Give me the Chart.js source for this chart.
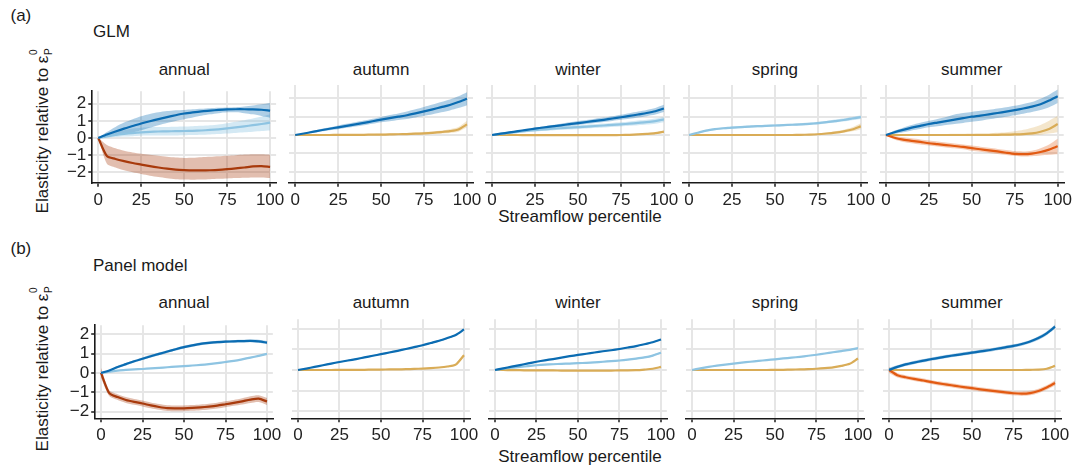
<!DOCTYPE html>
<html><head><meta charset="utf-8">
<script src="https://cdn.jsdelivr.net/npm/chart.js@4.4.1/dist/chart.umd.min.js"></script>
<style>
html,body{margin:0;padding:0;background:#fff;}
body{width:1075px;height:466px;position:relative;overflow:hidden;font-family:'Liberation Sans',Arial,sans-serif;color:#1a1a1a;}
.t{position:absolute;font-size:17px;line-height:17px;white-space:nowrap;}
.c{text-align:center;width:240px;}
canvas{position:absolute;}
.yl{position:absolute;width:220px;height:20px;line-height:20px;text-align:center;font-size:17px;transform:rotate(-90deg);white-space:nowrap;}
.ss{display:inline-block;position:relative;width:7px;height:0;}
.ss span{position:absolute;left:0.5px;font-size:10px;line-height:10px;}
</style></head>
<body>
<div class="t" style="left:10.5px;top:7px">(a)</div>
<div class="t" style="left:93px;top:22.5px">GLM</div>
<div class="t" style="left:10.5px;top:240px">(b)</div>
<div class="t" style="left:93px;top:257px">Panel model</div>
<div class="yl" style="left:-67px;top:120.5px">Elasticity relative to ε<span class="ss"><span style="top:-19.5px">0</span><span style="top:-4.5px">P</span></span></div>
<div class="yl" style="left:-67px;top:359px">Elasticity relative to ε<span class="ss"><span style="top:-19.5px">0</span><span style="top:-4.5px">P</span></span></div>
<div class="t c" style="left:460px;top:208px">Streamflow percentile</div>
<div class="t c" style="left:460px;top:448px">Streamflow percentile</div>
<div id="titles"></div>
<script>
// ---- axes / categories ----
const pct = [0,5,10,15,20,25,30,35,40,45,50,55,60,65,70,75,80,85,90,95,100];
const xTicks = [0,25,50,75,100];
const yTicks = [-2,-1,0,1,2];
const facetNames = ['annual','autumn','winter','spring','summer'];

// ---- GLM (a) ----
const gAnnDark   = [0,0.2,0.38,0.55,0.7,0.85,0.98,1.1,1.22,1.33,1.43,1.5,1.56,1.6,1.64,1.67,1.68,1.68,1.67,1.65,1.6];
const gAnnDarkLo = [0,0.08,0.15,0.22,0.32,0.45,0.6,0.75,0.88,1.0,1.1,1.2,1.3,1.38,1.45,1.5,1.5,1.45,1.38,1.28,1.18];
const gAnnDarkHi = [0,0.35,0.65,0.9,1.1,1.27,1.4,1.5,1.57,1.62,1.64,1.68,1.71,1.74,1.76,1.78,1.8,1.84,1.9,1.97,2.05];
const gAnnLight   = [0,0.1,0.18,0.24,0.29,0.33,0.36,0.38,0.39,0.4,0.41,0.42,0.44,0.47,0.51,0.56,0.62,0.68,0.75,0.82,0.9];
const gAnnLightLo = [0,0.03,0.06,0.09,0.11,0.13,0.14,0.15,0.15,0.15,0.16,0.17,0.19,0.21,0.23,0.26,0.29,0.33,0.37,0.41,0.44];
const gAnnLightHi = [0,0.2,0.34,0.46,0.55,0.6,0.63,0.64,0.65,0.66,0.67,0.69,0.71,0.74,0.79,0.86,0.95,1.04,1.14,1.25,1.38];
const gAnnRed   = [0,-1.05,-1.22,-1.35,-1.46,-1.55,-1.64,-1.72,-1.79,-1.84,-1.87,-1.89,-1.89,-1.88,-1.86,-1.82,-1.77,-1.72,-1.66,-1.64,-1.68];
const gAnnRedLo = [0,-1.5,-1.72,-1.88,-2.0,-2.1,-2.2,-2.28,-2.35,-2.4,-2.42,-2.43,-2.42,-2.4,-2.38,-2.36,-2.34,-2.32,-2.3,-2.3,-2.33];
const gAnnRedHi = [0,-0.4,-0.6,-0.75,-0.85,-0.92,-0.98,-1.04,-1.1,-1.14,-1.16,-1.15,-1.12,-1.1,-1.07,-1.04,-1.0,-0.96,-0.94,-0.95,-0.97];

const gAutDark   = [0,0.08,0.17,0.26,0.34,0.42,0.5,0.58,0.66,0.75,0.84,0.92,1.0,1.08,1.18,1.29,1.4,1.52,1.64,1.8,1.98];
const gAutDarkLo = [0,0.05,0.12,0.19,0.26,0.32,0.39,0.46,0.53,0.61,0.69,0.75,0.82,0.88,0.96,1.05,1.14,1.24,1.34,1.47,1.62];
const gAutDarkHi = [0,0.11,0.22,0.33,0.42,0.52,0.61,0.7,0.79,0.89,0.99,1.09,1.18,1.28,1.4,1.53,1.66,1.8,1.94,2.12,2.34];
const gAutGold   = [0,0,0,0,0,0.01,0.01,0.01,0.01,0.02,0.02,0.03,0.04,0.05,0.07,0.09,0.12,0.16,0.21,0.3,0.58];
const gAutGoldLo = [0,-0.02,-0.02,-0.03,-0.03,-0.02,-0.02,-0.02,-0.02,-0.02,-0.02,-0.01,0,0.01,0.02,0.03,0.05,0.08,0.11,0.18,0.42];
const gAutGoldHi = [0,0.02,0.02,0.03,0.03,0.04,0.04,0.04,0.05,0.06,0.07,0.08,0.09,0.11,0.13,0.16,0.2,0.25,0.32,0.44,0.78];

const gWinDark   = [0,0.07,0.14,0.21,0.28,0.35,0.41,0.47,0.53,0.59,0.65,0.71,0.77,0.83,0.9,0.97,1.04,1.12,1.2,1.3,1.45];
const gWinDarkLo = [0,0.05,0.11,0.17,0.23,0.29,0.34,0.39,0.44,0.49,0.54,0.6,0.65,0.71,0.77,0.83,0.89,0.96,1.03,1.12,1.25];
const gWinDarkHi = [0,0.09,0.17,0.25,0.33,0.41,0.48,0.55,0.62,0.69,0.76,0.82,0.89,0.95,1.03,1.11,1.19,1.28,1.37,1.48,1.65];
const gWinLight   = [0,0.06,0.12,0.17,0.22,0.27,0.31,0.34,0.37,0.4,0.43,0.46,0.49,0.52,0.55,0.58,0.62,0.66,0.7,0.76,0.85];
const gWinLightLo = [0,0.03,0.07,0.11,0.15,0.19,0.22,0.25,0.28,0.3,0.33,0.36,0.38,0.41,0.44,0.46,0.5,0.53,0.57,0.62,0.7];
const gWinLightHi = [0,0.09,0.17,0.23,0.29,0.35,0.4,0.43,0.46,0.5,0.53,0.56,0.6,0.63,0.66,0.7,0.74,0.79,0.83,0.9,1.0];
const gWinGold   = [0,0,0,0,-0.01,-0.01,-0.01,-0.01,-0.01,-0.01,-0.01,-0.01,-0.01,-0.01,-0.01,0,0.01,0.03,0.06,0.1,0.18];
const gWinGoldLo = [0,-0.02,-0.03,-0.03,-0.04,-0.04,-0.04,-0.04,-0.04,-0.04,-0.04,-0.04,-0.04,-0.04,-0.04,-0.03,-0.02,0,0.02,0.05,0.12];
const gWinGoldHi = [0,0.02,0.03,0.03,0.03,0.03,0.03,0.03,0.03,0.03,0.03,0.03,0.03,0.03,0.03,0.04,0.05,0.07,0.1,0.15,0.25];

const gSprLight   = [0,0.12,0.24,0.32,0.37,0.4,0.43,0.46,0.48,0.5,0.52,0.54,0.56,0.58,0.61,0.65,0.7,0.76,0.82,0.9,0.98];
const gSprLightLo = [0,0.09,0.19,0.26,0.31,0.34,0.37,0.4,0.42,0.44,0.46,0.48,0.5,0.52,0.55,0.58,0.63,0.68,0.74,0.81,0.88];
const gSprLightHi = [0,0.15,0.28,0.37,0.42,0.46,0.49,0.52,0.54,0.56,0.58,0.6,0.62,0.65,0.68,0.72,0.77,0.84,0.91,0.99,1.08];
const gSprGold   = [0,0,0,0,0,0,0,0,0,0,0,0,0,0.01,0.02,0.04,0.08,0.13,0.2,0.3,0.47];
const gSprGoldLo = [0,-0.02,-0.02,-0.02,-0.02,-0.02,-0.02,-0.02,-0.02,-0.02,-0.02,-0.02,-0.02,-0.02,-0.01,0,0.03,0.07,0.12,0.2,0.32];
const gSprGoldHi = [0,0.02,0.02,0.02,0.02,0.02,0.02,0.02,0.02,0.02,0.02,0.02,0.03,0.04,0.06,0.09,0.13,0.2,0.29,0.42,0.64];

const gSumDark   = [0,0.15,0.28,0.4,0.5,0.6,0.68,0.76,0.84,0.92,1.0,1.06,1.13,1.2,1.28,1.36,1.45,1.55,1.68,1.88,2.12];
const gSumDarkLo = [0,0.06,0.15,0.25,0.33,0.42,0.48,0.55,0.6,0.66,0.72,0.78,0.86,0.93,1.0,1.08,1.16,1.25,1.36,1.52,1.75];
const gSumDarkHi = [0,0.24,0.4,0.55,0.67,0.78,0.88,0.98,1.12,1.2,1.26,1.32,1.38,1.45,1.52,1.6,1.7,1.8,1.98,2.2,2.48];
const gSumGold   = [0,0,0,0,0,0,0,0,0,0,0,0,0,0.01,0.02,0.03,0.05,0.09,0.18,0.33,0.6];
const gSumGoldLo = [0,-0.02,-0.03,-0.04,-0.04,-0.04,-0.04,-0.04,-0.04,-0.04,-0.04,-0.04,-0.04,-0.04,-0.04,-0.03,-0.02,-0.01,0.02,0.08,0.15];
const gSumGoldHi = [0,0.03,0.04,0.05,0.05,0.06,0.06,0.06,0.07,0.07,0.08,0.09,0.1,0.12,0.15,0.2,0.28,0.4,0.55,0.78,1.05];
const gSumOrange   = [0,-0.15,-0.25,-0.32,-0.38,-0.45,-0.5,-0.55,-0.6,-0.65,-0.72,-0.78,-0.84,-0.9,-0.97,-1.03,-1.05,-1.02,-0.93,-0.8,-0.62];
const gSumOrangeLo = [0,-0.25,-0.38,-0.45,-0.52,-0.58,-0.63,-0.68,-0.73,-0.78,-0.86,-0.92,-0.98,-1.04,-1.1,-1.15,-1.18,-1.16,-1.12,-1.08,-1.05];
const gSumOrangeHi = [0,-0.05,-0.12,-0.18,-0.24,-0.3,-0.36,-0.41,-0.46,-0.52,-0.58,-0.64,-0.7,-0.76,-0.82,-0.88,-0.9,-0.86,-0.72,-0.52,-0.2];

// ---- Panel model (b) ----
const pAnnDark   = [0,0.12,0.3,0.45,0.6,0.73,0.86,0.98,1.1,1.22,1.33,1.42,1.5,1.55,1.59,1.61,1.63,1.64,1.65,1.63,1.56];
const pAnnDarkLo = [0,0.08,0.24,0.38,0.53,0.66,0.79,0.91,1.03,1.15,1.26,1.35,1.43,1.48,1.52,1.54,1.56,1.57,1.58,1.55,1.48];
const pAnnDarkHi = [0,0.16,0.36,0.52,0.67,0.8,0.93,1.05,1.17,1.29,1.4,1.49,1.57,1.62,1.66,1.68,1.7,1.71,1.72,1.71,1.64];
const pAnnLight   = [0,0.06,0.12,0.15,0.18,0.2,0.23,0.26,0.29,0.32,0.35,0.38,0.41,0.45,0.5,0.56,0.62,0.7,0.79,0.88,0.98];
const pAnnLightLo = [0,0.04,0.1,0.13,0.16,0.18,0.21,0.24,0.27,0.3,0.33,0.36,0.39,0.43,0.48,0.54,0.6,0.67,0.76,0.85,0.94];
const pAnnLightHi = [0,0.08,0.14,0.17,0.2,0.22,0.25,0.28,0.31,0.34,0.37,0.4,0.43,0.47,0.52,0.58,0.64,0.73,0.82,0.91,1.02];
const pAnnRed   = [0,-1.05,-1.25,-1.4,-1.5,-1.58,-1.68,-1.76,-1.82,-1.83,-1.83,-1.81,-1.78,-1.74,-1.69,-1.62,-1.55,-1.47,-1.38,-1.33,-1.48];
const pAnnRedLo = [-0.25,-1.2,-1.4,-1.55,-1.65,-1.73,-1.83,-1.91,-1.97,-1.98,-1.98,-1.96,-1.93,-1.89,-1.84,-1.77,-1.7,-1.63,-1.55,-1.5,-1.66];
const pAnnRedHi = [0.25,-0.9,-1.1,-1.25,-1.35,-1.43,-1.53,-1.61,-1.67,-1.68,-1.68,-1.66,-1.63,-1.59,-1.54,-1.47,-1.4,-1.31,-1.21,-1.16,-1.3];

const pAutDark   = [0,0.07,0.15,0.23,0.31,0.39,0.46,0.53,0.61,0.69,0.77,0.85,0.93,1.02,1.11,1.2,1.31,1.42,1.55,1.7,1.97];
const pAutDarkLo = [0,0.05,0.13,0.2,0.28,0.36,0.43,0.5,0.58,0.66,0.74,0.82,0.9,0.99,1.08,1.17,1.27,1.38,1.51,1.66,1.92];
const pAutDarkHi = [0,0.09,0.17,0.26,0.34,0.42,0.49,0.56,0.64,0.72,0.8,0.88,0.96,1.05,1.14,1.23,1.35,1.46,1.59,1.74,2.02];
const pAutGold   = [0,0,0,0,0,0.01,0.01,0.01,0.01,0.02,0.02,0.03,0.03,0.04,0.05,0.07,0.09,0.12,0.17,0.26,0.72];
const pAutGoldLo = [0,-0.02,-0.02,-0.02,-0.02,-0.01,-0.01,-0.01,-0.01,0,0,0.01,0.01,0.02,0.03,0.05,0.07,0.1,0.14,0.22,0.66];
const pAutGoldHi = [0,0.02,0.02,0.02,0.02,0.03,0.03,0.03,0.03,0.04,0.04,0.05,0.05,0.06,0.07,0.09,0.11,0.14,0.2,0.3,0.78];

const pWinDark   = [0,0.08,0.16,0.24,0.32,0.4,0.47,0.53,0.6,0.67,0.73,0.79,0.85,0.91,0.96,1.02,1.09,1.16,1.25,1.35,1.48];
const pWinDarkLo = [0,0.06,0.14,0.22,0.3,0.38,0.45,0.51,0.58,0.65,0.71,0.77,0.83,0.89,0.94,1.0,1.06,1.13,1.22,1.32,1.44];
const pWinDarkHi = [0,0.1,0.18,0.26,0.34,0.42,0.49,0.55,0.62,0.69,0.75,0.81,0.87,0.93,0.98,1.04,1.12,1.19,1.28,1.38,1.52];
const pWinLight   = [0,0.06,0.11,0.15,0.19,0.23,0.26,0.28,0.3,0.31,0.33,0.35,0.37,0.4,0.43,0.46,0.5,0.55,0.61,0.7,0.84];
const pWinLightLo = [0,0.04,0.08,0.12,0.16,0.2,0.23,0.25,0.27,0.28,0.3,0.32,0.34,0.37,0.4,0.43,0.47,0.52,0.58,0.66,0.8];
const pWinLightHi = [0,0.08,0.14,0.18,0.22,0.26,0.29,0.31,0.33,0.34,0.36,0.38,0.4,0.43,0.46,0.49,0.53,0.58,0.64,0.74,0.88];
const pWinGold   = [0,0,-0.01,-0.01,-0.02,-0.02,-0.02,-0.02,-0.03,-0.03,-0.03,-0.03,-0.03,-0.03,-0.03,-0.02,-0.02,-0.01,0.02,0.06,0.15];
const pWinGoldLo = [0,-0.02,-0.03,-0.03,-0.04,-0.04,-0.04,-0.04,-0.05,-0.05,-0.05,-0.05,-0.05,-0.05,-0.05,-0.04,-0.04,-0.03,0,0.04,0.12];
const pWinGoldHi = [0,0.02,0.01,0.01,0,0,0,0,-0.01,-0.01,-0.01,-0.01,-0.01,-0.01,-0.01,0,0,0.01,0.04,0.08,0.18];

const pSprLight   = [0,0.08,0.15,0.21,0.26,0.31,0.36,0.4,0.44,0.48,0.52,0.56,0.6,0.64,0.69,0.74,0.8,0.86,0.92,0.98,1.06];
const pSprLightLo = [0,0.06,0.13,0.19,0.24,0.29,0.34,0.38,0.42,0.46,0.5,0.54,0.58,0.62,0.67,0.72,0.77,0.83,0.89,0.95,1.02];
const pSprLightHi = [0,0.1,0.17,0.23,0.28,0.33,0.38,0.42,0.46,0.5,0.54,0.58,0.62,0.66,0.71,0.76,0.83,0.89,0.95,1.01,1.1];
const pSprGold   = [0,0,0,0,0,0,0,0,0,0,0.01,0.01,0.02,0.03,0.04,0.06,0.09,0.13,0.2,0.3,0.56];
const pSprGoldLo = [0,-0.02,-0.02,-0.02,-0.02,-0.02,-0.02,-0.02,-0.02,-0.02,-0.01,-0.01,0,0.01,0.02,0.04,0.07,0.11,0.17,0.27,0.52];
const pSprGoldHi = [0,0.02,0.02,0.02,0.02,0.02,0.02,0.02,0.02,0.02,0.03,0.03,0.04,0.05,0.06,0.08,0.11,0.15,0.23,0.33,0.6];

const pSumDark   = [0,0.15,0.27,0.36,0.44,0.52,0.59,0.66,0.72,0.78,0.84,0.9,0.96,1.03,1.1,1.17,1.26,1.38,1.55,1.78,2.1];
const pSumDarkLo = [-0.1,0.07,0.19,0.28,0.36,0.44,0.51,0.58,0.64,0.7,0.76,0.82,0.88,0.95,1.02,1.09,1.18,1.3,1.46,1.69,2.0];
const pSumDarkHi = [0.1,0.23,0.35,0.44,0.52,0.6,0.67,0.74,0.8,0.86,0.92,0.98,1.04,1.11,1.18,1.25,1.34,1.46,1.64,1.87,2.2];
const pSumGold   = [0,0,0,0,0,0,0,0,0,0,0,0,0,0,0,0,0,0.01,0.02,0.06,0.2];
const pSumGoldLo = [0,-0.02,-0.02,-0.02,-0.02,-0.02,-0.02,-0.02,-0.02,-0.02,-0.02,-0.02,-0.02,-0.02,-0.02,-0.02,-0.02,-0.01,0,0.03,0.16];
const pSumGoldHi = [0,0.02,0.02,0.02,0.02,0.02,0.02,0.02,0.02,0.02,0.02,0.02,0.02,0.02,0.02,0.02,0.02,0.03,0.04,0.09,0.24];
const pSumOrange   = [0,-0.25,-0.35,-0.43,-0.5,-0.58,-0.65,-0.71,-0.77,-0.83,-0.88,-0.94,-0.99,-1.04,-1.09,-1.13,-1.15,-1.12,-1.02,-0.85,-0.63];
const pSumOrangeLo = [-0.15,-0.36,-0.45,-0.53,-0.6,-0.68,-0.75,-0.81,-0.87,-0.93,-0.98,-1.04,-1.09,-1.14,-1.19,-1.23,-1.26,-1.23,-1.13,-0.96,-0.75];
const pSumOrangeHi = [0.15,-0.14,-0.25,-0.33,-0.4,-0.48,-0.55,-0.61,-0.67,-0.73,-0.78,-0.84,-0.89,-0.94,-0.99,-1.03,-1.04,-1.01,-0.91,-0.74,-0.51];

// ---- styles ----
const DARK = '#0b6cb2', DARKB = 'rgba(11,108,178,0.33)';
const LIGHT = '#8ec4e2', LIGHTB = 'rgba(142,196,226,0.38)';
const GOLD = '#d9ac57', GOLDB = 'rgba(217,172,87,0.3)';
const BROWN = '#a83a0c', BROWNB = 'rgba(168,58,12,0.33)';
const ORANGE = '#e25a12', ORANGEB = 'rgba(226,90,18,0.3)';
const GRID = '#e6e6e6';
const FONT = "'Liberation Sans', Arial, sans-serif";
const S = (color, band, v, lo, hi) => ({color, band, v, lo, hi});

const rows = [
  {x0:98.3, pitch:196.9, span:171.8, top:85, bottom:182.7, ymin:-2.607, ymax:2.732, titleTop:61,
   panels:[
    [S(DARK,DARKB,gAnnDark,gAnnDarkLo,gAnnDarkHi), S(LIGHT,LIGHTB,gAnnLight,gAnnLightLo,gAnnLightHi), S(BROWN,BROWNB,gAnnRed,gAnnRedLo,gAnnRedHi)],
    [S(DARK,DARKB,gAutDark,gAutDarkLo,gAutDarkHi), S(GOLD,GOLDB,gAutGold,gAutGoldLo,gAutGoldHi)],
    [S(DARK,DARKB,gWinDark,gWinDarkLo,gWinDarkHi), S(LIGHT,LIGHTB,gWinLight,gWinLightLo,gWinLightHi), S(GOLD,GOLDB,gWinGold,gWinGoldLo,gWinGoldHi)],
    [S(LIGHT,LIGHTB,gSprLight,gSprLightLo,gSprLightHi), S(GOLD,GOLDB,gSprGold,gSprGoldLo,gSprGoldHi)],
    [S(DARK,DARKB,gSumDark,gSumDarkLo,gSumDarkHi), S(ORANGE,ORANGEB,gSumOrange,gSumOrangeLo,gSumOrangeHi), S(GOLD,GOLDB,gSumGold,gSumGoldLo,gSumGoldHi)]
   ]},
  {x0:101, pitch:197, span:166, top:319.3, bottom:418.3, ymin:-2.345, ymax:2.461, titleTop:294,
   panels:[
    [S(DARK,DARKB,pAnnDark,pAnnDarkLo,pAnnDarkHi), S(LIGHT,LIGHTB,pAnnLight,pAnnLightLo,pAnnLightHi), S(BROWN,BROWNB,pAnnRed,pAnnRedLo,pAnnRedHi)],
    [S(DARK,DARKB,pAutDark,pAutDarkLo,pAutDarkHi), S(GOLD,GOLDB,pAutGold,pAutGoldLo,pAutGoldHi)],
    [S(DARK,DARKB,pWinDark,pWinDarkLo,pWinDarkHi), S(LIGHT,LIGHTB,pWinLight,pWinLightLo,pWinLightHi), S(GOLD,GOLDB,pWinGold,pWinGoldLo,pWinGoldHi)],
    [S(LIGHT,LIGHTB,pSprLight,pSprLightLo,pSprLightHi), S(GOLD,GOLDB,pSprGold,pSprGoldLo,pSprGoldHi)],
    [S(DARK,DARKB,pSumDark,pSumDarkLo,pSumDarkHi), S(ORANGE,ORANGEB,pSumOrange,pSumOrangeLo,pSumOrangeHi), S(GOLD,GOLDB,pSumGold,pSumGoldLo,pSumGoldHi)]
   ]}
];

const XMIN = -3.5, XMAX = 103.5;
const pts = arr => pct.map((x, i) => ({x, y: arr[i]}));
const titles = document.getElementById('titles');

rows.forEach(row => row.panels.forEach((ser, i) => {
  const first = i === 0;
  const ppu = row.span / 100;
  const x0 = row.x0 + row.pitch * i;
  const aL = x0 + XMIN * ppu, aR = x0 + XMAX * ppu;
  const yW = first ? 34 : 0;
  const cL = Math.floor(aL - yW - 10), cR = Math.ceil(aR + 18);
  const cT = Math.floor(row.top - 6), cB = Math.ceil(row.bottom + 36);
  const padL = aL - yW - cL, padR = cR - aR, padT = row.top - cT, xH = cB - row.bottom;

  const tt = document.createElement('div');
  tt.className = 't c';
  tt.style.left = (x0 + 50 * ppu - 120) + 'px';
  tt.style.top = row.titleTop + 'px';
  tt.textContent = facetNames[i];
  titles.appendChild(tt);

  const cv = document.createElement('canvas');
  cv.width = cR - cL; cv.height = cB - cT;
  cv.style.left = cL + 'px'; cv.style.top = cT + 'px';
  cv.style.width = (cR - cL) + 'px'; cv.style.height = (cB - cT) + 'px';
  document.body.appendChild(cv);

  const datasets = [];
  ser.forEach(s => {
    datasets.push({data: pts(s.hi), borderColor: 'rgba(0,0,0,0)', borderWidth: 0, fill: false, order: 2});
    datasets.push({data: pts(s.lo), borderColor: 'rgba(0,0,0,0)', borderWidth: 0, fill: '-1', backgroundColor: s.band, order: 2});
  });
  ser.forEach(s => datasets.push({data: pts(s.v), borderColor: s.color, borderWidth: 2.2, fill: false, order: 1}));

  new Chart(cv, {
    type: 'line',
    data: {datasets},
    options: {
      responsive: false, animation: false, devicePixelRatio: 1,
      layout: {padding: {left: padL, right: padR, top: padT, bottom: 0}},
      elements: {point: {radius: 0}, line: {tension: 0.25}},
      plugins: {legend: {display: false}, tooltip: {enabled: false}},
      scales: {
        x: {
          type: 'linear', min: XMIN, max: XMAX,
          afterBuildTicks: s => { s.ticks = xTicks.map(v => ({value: v})); },
          afterFit: s => { s.height = xH; },
          grid: {color: GRID, lineWidth: 2, drawTicks: true, tickLength: 4, tickColor: '#1a1a1a', tickWidth: 1.5},
          border: {display: true, color: '#1a1a1a', width: 1.6},
          ticks: {font: {family: FONT, size: 17}, color: '#222', padding: 3, maxRotation: 0, autoSkip: false, callback: v => String(v)}
        },
        y: {
          type: 'linear', min: row.ymin, max: row.ymax,
          afterBuildTicks: s => { s.ticks = yTicks.map(v => ({value: v})); },
          afterFit: s => { s.width = yW; },
          grid: {color: GRID, lineWidth: 2, drawTicks: first, tickLength: first ? 4 : 0, tickColor: '#1a1a1a', tickWidth: 1.5},
          border: {display: first, color: '#1a1a1a', width: 1.6},
          ticks: {display: first, autoSkip: false, font: {family: FONT, size: 17}, color: '#222', padding: 2, callback: v => v < 0 ? '\u2212' + (-v) : String(v)}
        }
      }
    }
  });
}));
</script>
</body></html>
